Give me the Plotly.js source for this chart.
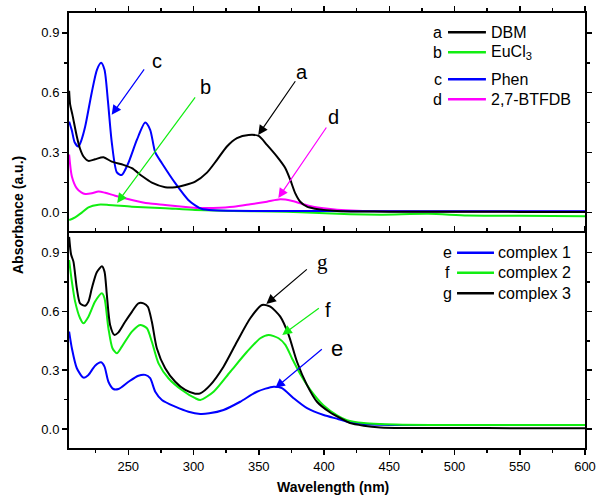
<!DOCTYPE html>
<html>
<head>
<meta charset="utf-8">
<script src="https://cdn.plot.ly/plotly-3.0.1.min.js"></script>
<style>html,body{margin:0;padding:0;background:#fff;}#chart{width:597px;height:496px;}</style>
</head>
<body>
<div id="chart"></div>
<script>
// ---- Top panel data ----
const dbmX = [204.7, 205.5, 207.2, 210.6, 213, 215.7, 219.5, 224.6, 231, 237.4, 246.3, 252.8, 260.5, 268.1, 278.3, 286, 293.7, 301.3, 310.3, 318, 325.6, 333.3, 342.2, 349.9, 356.3, 364, 370.4, 374.2, 378, 381.8, 387, 393, 399.7, 410, 425, 450, 500, 550, 600];
const dbmY = [0.61, 0.54, 0.49, 0.38, 0.32, 0.28, 0.258, 0.266, 0.276, 0.254, 0.238, 0.221, 0.182, 0.149, 0.126, 0.126, 0.137, 0.154, 0.199, 0.263, 0.33, 0.372, 0.388, 0.383, 0.338, 0.279, 0.221, 0.162, 0.095, 0.053, 0.028, 0.018, 0.012, 0.007, 0.004, 0.003, 0.003, 0.002, 0.002];

const euX = [204.7, 208, 211, 214.4, 219.5, 227.2, 234.8, 252.8, 278.3, 301.3, 330, 360, 382, 420, 445, 480, 510, 550, 600];
const euY = [-0.039, -0.03, -0.018, -0.002, 0.025, 0.038, 0.037, 0.028, 0.02, 0.012, 0.007, 0.004, 0.0, -0.01, -0.012, -0.008, -0.016, -0.017, -0.02];

const phenX = [204.7, 206.8, 209, 211.8, 214, 217, 222, 226, 229.2, 231.8, 234.4, 237.4, 241.3, 245, 250, 256.6, 263, 266.8, 270.7, 275.8, 286, 296, 301.3, 306, 315, 330, 360, 400, 450, 500, 550, 600];
const phenY = [0.455, 0.41, 0.35, 0.33, 0.36, 0.43, 0.6, 0.715, 0.75, 0.715, 0.56, 0.35, 0.2, 0.187, 0.246, 0.363, 0.45, 0.414, 0.3, 0.246, 0.146, 0.062, 0.035, 0.018, 0.01, 0.008, 0.006, 0.006, 0.005, 0.005, 0.005, 0.005];

const btfX = [204.7, 206.8, 210.6, 214, 217, 222.1, 227.2, 232.3, 240, 252.8, 265.5, 278.3, 298, 305, 315, 330.7, 343.5, 356.3, 366.5, 375, 381.8, 390, 399.7, 410, 425.3, 450, 500, 550, 600];
const btfY = [0.29, 0.18, 0.12, 0.1, 0.092, 0.095, 0.104, 0.098, 0.083, 0.062, 0.045, 0.037, 0.024, 0.021, 0.022, 0.028, 0.04, 0.053, 0.065, 0.058, 0.045, 0.03, 0.02, 0.013, 0.008, 0.005, 0.004, 0.004, 0.004];

// ---- Bottom panel data ----
const c3X = [204.7, 206.2, 208, 210.6, 213.1, 217, 219.5, 222.1, 225.9, 229.8, 231.8, 233.6, 236.1, 239.4, 242.5, 247.6, 252.8, 257.8, 261.7, 265, 268.1, 271.9, 278.3, 286, 293.7, 301.3, 305.2, 312.8, 323, 333.3, 343.5, 352.5, 358.9, 366.5, 372.9, 379.3, 387, 394.6, 404.8, 412.5, 420, 430.4, 443.2, 460, 500, 550, 600];
const c3Y = [0.98, 0.89, 0.854, 0.718, 0.641, 0.629, 0.65, 0.718, 0.8, 0.83, 0.803, 0.684, 0.531, 0.48, 0.493, 0.547, 0.598, 0.641, 0.641, 0.624, 0.547, 0.412, 0.31, 0.241, 0.199, 0.18, 0.182, 0.224, 0.318, 0.445, 0.565, 0.633, 0.624, 0.573, 0.48, 0.343, 0.224, 0.139, 0.084, 0.055, 0.03, 0.017, 0.008, 0.005, 0.005, 0.004, 0.004];

const c2X = [204.7, 206.8, 209.3, 213.1, 215.7, 219.5, 224.6, 229.8, 231.8, 234.8, 237.9, 241.3, 245.1, 252.8, 259.1, 264.3, 268.1, 273.2, 280.8, 291.1, 301.3, 305.2, 315.4, 328.2, 341, 351.2, 357.6, 365.2, 370.4, 375.5, 381.8, 389.5, 399.7, 410, 417.6, 430.4, 443.2, 460, 500, 550, 600];
const c2Y = [0.862, 0.752, 0.65, 0.565, 0.539, 0.573, 0.65, 0.692, 0.667, 0.514, 0.412, 0.386, 0.42, 0.497, 0.531, 0.514, 0.445, 0.335, 0.259, 0.199, 0.157, 0.148, 0.19, 0.292, 0.394, 0.463, 0.48, 0.463, 0.429, 0.36, 0.28, 0.2, 0.12, 0.07, 0.045, 0.03, 0.025, 0.022, 0.02, 0.02, 0.02];

const c1X = [204.7, 206.8, 210.6, 215.7, 219.5, 224.6, 229.2, 231.8, 234.8, 238.6, 242.5, 250.2, 257.8, 263, 266.8, 270.7, 275.8, 286, 296.2, 305.2, 312, 323, 335.8, 348.6, 361.4, 367.8, 376.7, 387, 399.7, 411.2, 417.6, 430.4, 443.2, 460, 500, 550, 600];
const c1Y = [0.497, 0.412, 0.31, 0.262, 0.276, 0.323, 0.34, 0.318, 0.241, 0.204, 0.204, 0.241, 0.272, 0.276, 0.259, 0.19, 0.148, 0.114, 0.088, 0.077, 0.08, 0.097, 0.139, 0.19, 0.216, 0.208, 0.157, 0.106, 0.071, 0.05, 0.037, 0.026, 0.022, 0.02, 0.02, 0.02, 0.02];

const BLACK = '#000000', GREEN = '#11ee11', BLUE = '#0000ff', MAGENTA = '#ff00ff';
const FONT = 'Arial, "Liberation Sans", sans-serif';

function tr(x, y, color, yaxis) {
  return {x: x, y: y, type: 'scatter', mode: 'lines', xaxis: yaxis === 'y' ? 'x' : 'x2', yaxis: yaxis,
    line: {color: color, width: 2, shape: 'spline', smoothing: 0.7}, hoverinfo: 'skip', showlegend: false};
}

const data = [
  tr(btfX, btfY, MAGENTA, 'y'),
  tr(euX, euY, GREEN, 'y'),
  tr(phenX, phenY, BLUE, 'y'),
  tr(dbmX, dbmY, BLACK, 'y'),
  tr(c1X, c1Y, BLUE, 'y2'),
  tr(c2X, c2Y, GREEN, 'y2'),
  tr(c3X, c3Y, BLACK, 'y2')
];

const split = 215 / 435;
const axCommon = {showline: true, linecolor: '#000', linewidth: 2, showgrid: false, zeroline: false,
  ticks: 'outside', ticklen: 5, tickwidth: 1.5, tickcolor: '#000',
  tickfont: {family: FONT, size: 13, color: '#000'}};

const layout = {
  width: 597, height: 496,
  margin: {l: 69, r: 12, t: 13, b: 48},
  paper_bgcolor: '#fff', plot_bgcolor: '#fff',
  font: {family: FONT, color: '#000'},
  xaxis: Object.assign({}, axCommon, {domain: [0, 1], anchor: 'y', side: 'top', range: [204.6, 600], dtick: 50, tick0: 0,
    showticklabels: false, mirror: false, minor: {dtick: 25, ticks: 'outside', ticklen: 3, tickcolor: '#000'}}),
  xaxis2: Object.assign({}, axCommon, {domain: [0, 1], anchor: 'y2', range: [204.6, 600], dtick: 50, tick0: 0,
    mirror: 'ticks', minor: {dtick: 25, ticks: 'outside', ticklen: 3, tickcolor: '#000'}}),
  yaxis: Object.assign({}, axCommon, {domain: [split, 1], anchor: 'x', range: [-0.104, 1.0], dtick: 0.3, tick0: 0,
    tickformat: '.1f', mirror: 'ticks', minor: {dtick: 0.15, ticks: 'outside', ticklen: 3, tickcolor: '#000'}}),
  yaxis2: Object.assign({}, axCommon, {domain: [0, split], anchor: 'x2', range: [-0.097, 1.0], dtick: 0.3, tick0: 0,
    tickformat: '.1f', mirror: 'ticks', minor: {dtick: 0.15, ticks: 'outside', ticklen: 3, tickcolor: '#000'}}),
  shapes: [],
  annotations: []
};

// Axis titles
layout.annotations.push({xref: 'paper', yref: 'paper', x: -0.0988, y: 0.5356, text: '<b>Absorbance (a.u.)</b>',
  textangle: -90, showarrow: false, xanchor: 'center', yanchor: 'middle', font: {family: FONT, size: 14, color: '#000'}});
layout.annotations.push({xref: 'paper', yref: 'paper', x: 0.512, y: -0.0897, text: '<b>Wavelength (nm)</b>',
  showarrow: false, xanchor: 'center', yanchor: 'middle', font: {family: FONT, size: 14, color: '#000'}});

// Arrows with labels (head at x,y; tail at ax,ay)
function arrow(xr, yr, hx, hy, tx, ty, color, label, lx, ly, fam, size) {
  layout.annotations.push({xref: xr, yref: yr, axref: xr, ayref: yr, x: hx, y: hy, ax: tx, ay: ty, text: '',
    showarrow: true, arrowhead: 2, arrowsize: 1.6, arrowwidth: 1.2, arrowcolor: color, standoff: 0, startstandoff: 0});
  layout.annotations.push({xref: xr, yref: yr, x: lx, y: ly, text: label, showarrow: false, xanchor: 'center', yanchor: 'middle',
    font: {family: fam || FONT, size: size || 20, color: '#000'}});
}
arrow('x', 'y', 237.3, 0.489, 263.0, 0.725, BLUE, 'c', 272.2, 0.758);
arrow('x', 'y', 241.5, 0.047, 302.1, 0.584, GREEN, 'b', 309.0, 0.63);
arrow('x', 'y', 349.6, 0.388, 378.8, 0.665, BLACK, 'a', 383.4, 0.705);
arrow('x', 'y', 365.0, 0.072, 402.6, 0.433, MAGENTA, 'd', 407.2, 0.476);
arrow('x2', 'y2', 355.8, 0.638, 388.0, 0.821, BLACK, 'g', 398.7, 0.85, '"Liberation Serif", "Times New Roman", serif', 21);
arrow('x2', 'y2', 368.0, 0.48, 397.2, 0.622, GREEN, 'f', 403.3, 0.607);
arrow('x2', 'y2', 362.7, 0.209, 399.5, 0.413, BLUE, 'e', 410.2, 0.413, FONT, 22);

// Manual legends
function legendRow(letter, lx, x0, x1, tx, y, color, label) {
  layout.shapes.push({type: 'line', xref: 'paper', yref: 'paper', x0: x0, x1: x1, y0: y, y1: y, line: {color: color, width: 2.5}});
  layout.annotations.push({xref: 'paper', yref: 'paper', x: lx, y: y, text: letter, showarrow: false, xanchor: 'center', yanchor: 'middle',
    font: {family: FONT, size: 16, color: '#000'}});
  layout.annotations.push({xref: 'paper', yref: 'paper', x: tx, y: y, text: label, showarrow: false, xanchor: 'left', yanchor: 'middle',
    font: {family: FONT, size: 16, color: '#000'}});
}
const topLegend = [['a', 'DBM', BLACK, 0.9556], ['b', 'EuCl<sub>3</sub>', GREEN, 0.9097], ['c', 'Phen', BLUE, 0.8476], ['d', '2,7-BTFDB', MAGENTA, 0.8016]];
topLegend.forEach(r => legendRow(r[0], 0.715, 0.7345, 0.808, 0.814, r[3], r[2], r[1]));
const botLegend = [['e', 'complex 1', BLUE, 0.449], ['f', 'complex 2', GREEN, 0.403], ['g', 'complex 3', BLACK, 0.3556]];
botLegend.forEach(r => legendRow(r[0], 0.7326, 0.752, 0.8236, 0.827, r[3], r[2], r[1]));

Plotly.newPlot('chart', data, layout, {displayModeBar: false, staticPlot: true});
</script>
</body>
</html>
